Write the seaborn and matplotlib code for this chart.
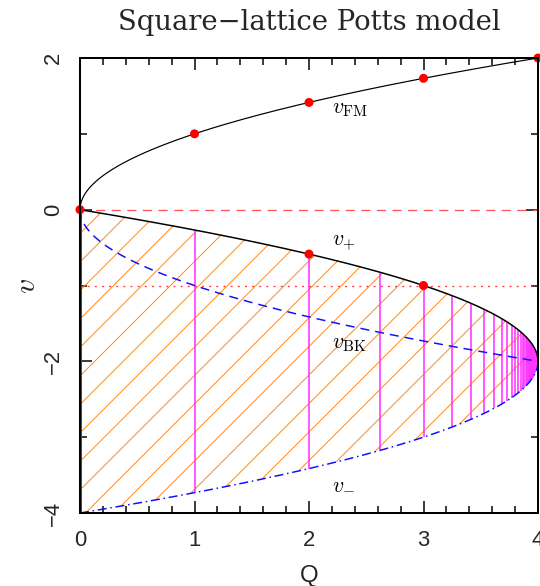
import numpy as np
import pandas as pd
import matplotlib
matplotlib.use("Agg")
import matplotlib.pyplot as plt
from matplotlib.ticker import MultipleLocator
import seaborn as sns

# Beraha numbers B_n = 4 cos^2(pi/n), n = 2, 3, ..., 30 and a few larger n
beraha_q = [0.0, 1.0, 2.0, 2.618, 3.0, 3.247, 3.414, 3.532, 3.618, 3.683,
            3.732, 3.771, 3.802, 3.827, 3.848, 3.865, 3.879, 3.892, 3.902,
            3.911, 3.919, 3.926, 3.932, 3.937, 3.942, 3.946, 3.950, 3.953,
            3.956, 3.968, 3.975, 3.984, 3.989]

# marked points on the curves
dot_q = [0, 1, 2, 3, 4, 2, 3]
dot_v = [0.0, 1.0, 1.4142, 1.7321, 2.0, -0.5858, -1.0]

# curve labels: (text, Q, v)
curve_labels = [(r"$v_{\rm FM}$", 2.2, 1.33),
                (r"$v_{+}$", 2.2, -0.43),
                (r"$v_{\rm BK}$", 2.2, -1.76),
                (r"$v_{-}$", 2.2, -3.62)]

x_ticks = [0, 1, 2, 3, 4]
y_ticks = [-4, -2, 0, 2]

# critical curves of the square-lattice Potts model
q = np.linspace(0.0, 4.0, 1601)
curves = pd.DataFrame({
    "Q": q,
    "v_FM": np.sqrt(q),
    "v_plus": -2.0 + np.sqrt(4.0 - q),
    "v_minus": -2.0 - np.sqrt(4.0 - q),
    "v_BK": -np.sqrt(q),
})

DPI = 171
PX = 72.0 / DPI  # points per output pixel

sns.set_theme(style="ticks", rc={
    "xtick.direction": "in", "ytick.direction": "in",
    "xtick.top": True, "ytick.right": True,
    "xtick.bottom": True, "ytick.left": True,
})
plt.rcParams["font.family"] = ["Liberation Sans", "DejaVu Sans"]
plt.rcParams["mathtext.fontset"] = "cm"
plt.rcParams["hatch.linewidth"] = 1.0 * PX
plt.rcParams["hatch.color"] = "#FF8C1A"

fig = plt.figure(figsize=(540 / DPI, 586 / DPI), dpi=DPI)
ax = fig.add_axes([80 / 540, 1 - 513 / 586, 458 / 540, 455 / 586])

# Berker-Kadanoff region between v_- and v_+
ax.fill_between(curves["Q"], curves["v_minus"], curves["v_plus"],
                facecolor="none", edgecolor="#FF8C1A", hatch="//",
                linewidth=0, zorder=1)

# Beraha vertical lines from v_- to v_+
bq = np.array(beraha_q[1:])
ax.vlines(bq, -2.0 - np.sqrt(4.0 - bq), -2.0 + np.sqrt(4.0 - bq),
          colors="#FF33FF", linewidth=1.6 * PX, zorder=2)
ax.vlines([beraha_q[0]], -4.0, 0.0, colors="#8E1B8E", linewidth=3 * PX,
          zorder=3)

# reference lines v = 0 and v = -1
ax.axhline(0.0, color="#FF5555", linestyle=(0, (7, 5)), linewidth=1.3 * PX,
           zorder=2)
ax.axhline(-1.0, color="#FF3333", linestyle=(0, (1.5, 4)), linewidth=1.3 * PX,
           zorder=2)

sns.lineplot(data=curves, x="Q", y="v_FM", color="black", linewidth=1.2 * PX,
             ax=ax, zorder=4)
sns.lineplot(data=curves, x="Q", y="v_plus", color="black", linewidth=1.5 * PX,
             ax=ax, zorder=4)
sns.lineplot(data=curves, x="Q", y="v_BK", color="#1010FF", linewidth=1.5 * PX,
             ax=ax, zorder=4)
ax.lines[-1].set_dashes((6, 4))
sns.lineplot(data=curves, x="Q", y="v_minus", color="#1010FF",
             linewidth=1.5 * PX, ax=ax, zorder=4)
ax.lines[-1].set_dashes((6, 2.5, 1, 2.5))

sns.scatterplot(x=dot_q, y=dot_v, color="#FF0000", s=(9 * PX) ** 2,
                edgecolor="none", clip_on=False, zorder=6, ax=ax)

for text, xq, yv in curve_labels:
    ax.text(xq, yv, text, fontsize=22 * PX, color="black", ha="left",
            va="center", zorder=7)

ax.set_xlim(0, 4)
ax.set_ylim(-4, 2)
ax.set_xticks(x_ticks)
ax.set_yticks(y_ticks)
ax.set_yticklabels(["\u2212" + str(-t) if t < 0 else str(t) for t in y_ticks])
ax.xaxis.set_minor_locator(MultipleLocator(0.2))
ax.yaxis.set_minor_locator(MultipleLocator(1.0))
ax.tick_params(which="both", direction="in", top=True, right=True,
               bottom=True, left=True, color="black", width=1.5 * PX)
ax.tick_params(which="major", length=12 * PX, labelsize=22 * PX,
               pad=17 * PX)
ax.tick_params(which="minor", length=7 * PX)
ax.tick_params(axis="y", labelrotation=90, pad=16 * PX)
for lab in ax.get_yticklabels():
    lab.set_va("center")

for sp in ax.spines.values():
    sp.set_linewidth(2 * PX)
    sp.set_color("black")
    sp.set_zorder(8)

ax.set_xlabel("Q", fontsize=24 * PX, labelpad=14 * PX)
ax.set_ylabel(r"$v$", fontsize=30 * PX, labelpad=2 * PX)
ax.set_title("Square\u2212lattice Potts model", fontsize=27.5 * PX,
             family=["DejaVu Serif"], pad=28 * PX)

fig.savefig("out.png", dpi=DPI)
